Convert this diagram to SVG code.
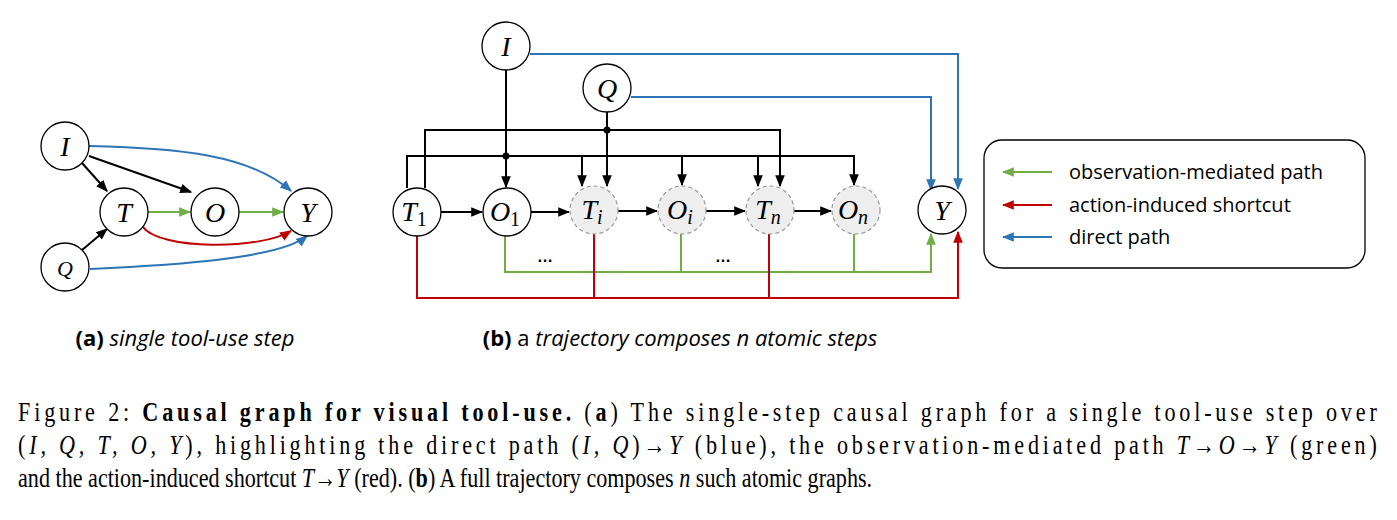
<svg xmlns="http://www.w3.org/2000/svg" width="1397" height="520" viewBox="0 0 1397 520">
<defs>
<marker id="ak" viewBox="0 0 10 10" refX="9" refY="5" markerWidth="6" markerHeight="6" orient="auto"><path d="M0,1 L10,5 L0,9 z" fill="#000"/></marker>
<marker id="ab" viewBox="0 0 10 10" refX="9" refY="5" markerWidth="6" markerHeight="6" orient="auto"><path d="M0,1 L10,5 L0,9 z" fill="#2e75b6"/></marker>
<marker id="ag" viewBox="0 0 10 10" refX="9" refY="5" markerWidth="6" markerHeight="6" orient="auto"><path d="M0,1 L10,5 L0,9 z" fill="#70ad47"/></marker>
<marker id="ar" viewBox="0 0 10 10" refX="9" refY="5" markerWidth="6" markerHeight="6" orient="auto"><path d="M0,1 L10,5 L0,9 z" fill="#c00000"/></marker>
<style>
.n{fill:#fff;stroke:#000;stroke-width:1.3}
.d{fill:#eeeeee;stroke:#999;stroke-width:1.2;stroke-dasharray:4 3}
.v{font-family:"Liberation Serif",serif;font-style:italic;font-size:28px;text-anchor:middle}
.s{font-size:20px}
.k{fill:none;stroke:#000;stroke-width:2}
.b{fill:none;stroke:#2e75b6;stroke-width:2}
.g{fill:none;stroke:#70ad47;stroke-width:2}
.r{fill:none;stroke:#c00000;stroke-width:2}
.lab{font-family:"Open Sans","DejaVu Sans",sans-serif;font-size:20px}
.sub{font-family:"Open Sans","DejaVu Sans",sans-serif;font-size:22px}
.cap{font-family:"Liberation Serif",serif;font-size:27px}
</style>
</defs>
<g id="connectors">
<line class="k" x1="82" y1="163" x2="107" y2="191" marker-end="url(#ak)"/>
<line class="k" x1="89" y1="156" x2="191" y2="192" marker-end="url(#ak)"/>
<line class="k" x1="82" y1="250" x2="107" y2="229" marker-end="url(#ak)"/>
<line class="g" x1="148" y1="212" x2="190" y2="212" marker-end="url(#ag)"/>
<line class="g" x1="239" y1="212" x2="283" y2="212" marker-end="url(#ag)"/>
<path class="b" d="M89,146 C180,148 250,155 291,191" marker-end="url(#ab)"/>
<path class="b" d="M90,269 C180,265 280,258 307,236" marker-end="url(#ab)"/>
<path class="r" d="M143,227 C160,250 260,250 291,231" marker-end="url(#ar)"/>
<line class="k" x1="506" y1="70" x2="506" y2="187" marker-end="url(#ak)"/>
<line class="k" x1="607" y1="112" x2="607" y2="186" marker-end="url(#ak)"/>
<polyline class="k" points="425,188 425,130 780,130 780,186" marker-end="url(#ak)"/>
<polyline class="k" points="407,188 407,156 854,156 854,185" marker-end="url(#ak)"/>
<line class="k" x1="582" y1="156" x2="582" y2="186" marker-end="url(#ak)"/>
<line class="k" x1="682" y1="156" x2="682" y2="185" marker-end="url(#ak)"/>
<line class="k" x1="758" y1="156" x2="758" y2="186" marker-end="url(#ak)"/>
<circle cx="607" cy="130" r="3.5"/>
<circle cx="506" cy="156" r="3.5"/>
<line class="k" x1="441" y1="212" x2="482" y2="212" marker-end="url(#ak)"/>
<line class="k" x1="531" y1="212" x2="569" y2="212" marker-end="url(#ak)"/>
<line class="k" x1="618" y1="211" x2="657" y2="211" marker-end="url(#ak)"/>
<line class="k" x1="706" y1="211" x2="745" y2="211" marker-end="url(#ak)"/>
<line class="k" x1="794" y1="211" x2="831" y2="211" marker-end="url(#ak)"/>
<polyline class="b" points="530,54 958,54 958,189" marker-end="url(#ab)"/>
<polyline class="b" points="631,97 931,97 931,190" marker-end="url(#ab)"/>
<polyline class="g" points="505,236 505,272 931,272 931,234" marker-end="url(#ag)"/>
<line class="g" x1="681" y1="234" x2="681" y2="272"/>
<line class="g" x1="854" y1="234" x2="854" y2="272"/>
<polyline class="r" points="417,236 417,298 958,298 958,232" marker-end="url(#ar)"/>
<line class="r" x1="594" y1="234" x2="594" y2="298"/>
<line class="r" x1="769" y1="234" x2="769" y2="298"/>
</g>
<g id="a-I"><circle class="n" cx="65" cy="146" r="24"/><text class="v" x="65" y="156">I</text></g>
<g id="a-T"><circle class="n" cx="124" cy="212" r="24"/><text class="v" x="124" y="222">T</text></g>
<g id="a-O"><circle class="n" cx="215" cy="212" r="24"/><text class="v" x="215" y="222">O</text></g>
<g id="a-Y"><circle class="n" cx="308" cy="212" r="24"/><text class="v" x="308" y="222">Y</text></g>
<g id="a-Q"><circle class="n" cx="65" cy="267" r="24"/><text class="v" x="65" y="276" style="font-size:22px">Q</text></g>
<g id="b-I"><circle class="n" cx="506" cy="46" r="24"/><text class="v" x="506" y="56">I</text></g>
<g id="b-Q"><circle class="n" cx="607" cy="88" r="24"/><text class="v" x="607" y="98">Q</text></g>
<g id="b-T1"><circle class="n" cx="417" cy="212" r="24"/><text class="v" x="414" y="221">T<tspan class="s" font-style="normal" dy="5">1</tspan></text></g>
<g id="b-O1"><circle class="n" cx="507" cy="212" r="24"/><text class="v" x="505" y="221">O<tspan class="s" font-style="normal" dy="5">1</tspan></text></g>
<g id="b-Ti"><circle class="d" cx="594" cy="210" r="24"/><text class="v" x="592" y="219">T<tspan class="s" dy="5">i</tspan></text></g>
<g id="b-Oi"><circle class="d" cx="682" cy="210" r="24"/><text class="v" x="680" y="219">O<tspan class="s" dy="5">i</tspan></text></g>
<g id="b-Tn"><circle class="d" cx="770" cy="210" r="24"/><text class="v" x="768" y="219">T<tspan class="s" dy="5">n</tspan></text></g>
<g id="b-On"><circle class="d" cx="856" cy="210" r="24"/><text class="v" x="853" y="219">O<tspan class="s" dy="5">n</tspan></text></g>
<g id="b-Y"><circle class="n" cx="942" cy="210" r="24"/><text class="v" x="942" y="220">Y</text></g>
<text x="545" y="262" font-family="Liberation Sans,sans-serif" font-size="16" font-weight="bold" text-anchor="middle">…</text>
<text x="723" y="262" font-family="Liberation Sans,sans-serif" font-size="16" font-weight="bold" text-anchor="middle">…</text>
<g id="legend">
<rect x="984" y="140" width="381" height="128" rx="18" fill="#fff" stroke="#000" stroke-width="1.3"/>
<line class="g" x1="1052" y1="172" x2="1003" y2="172" marker-end="url(#ag)"/>
<line class="r" x1="1052" y1="205" x2="1003" y2="205" marker-end="url(#ar)"/>
<line class="b" x1="1052" y1="237" x2="1003" y2="237" marker-end="url(#ab)"/>
<text class="lab" x="1069" y="179">observation-mediated path</text>
<text class="lab" x="1069" y="212">action-induced shortcut</text>
<text class="lab" x="1069" y="244">direct path</text>
</g>
<text class="sub" x="185" y="346" text-anchor="middle"><tspan font-weight="bold">(a)</tspan> <tspan font-style="italic">single tool-use step</tspan></text>
<text class="sub" x="680" y="346" text-anchor="middle"><tspan font-weight="bold">(b)</tspan> a <tspan font-style="italic">trajectory composes n atomic steps</tspan></text>
<g transform="scale(0.82,1)">
<text class="cap" x="22" y="421" textLength="1657" lengthAdjust="spacing">Figure 2: <tspan font-weight="bold">Causal graph for visual tool-use.</tspan> (<tspan font-weight="bold">a</tspan>) The single-step causal graph for a single tool-use step over</text>
<text class="cap" x="22" y="454" textLength="1657" lengthAdjust="spacing">(<tspan font-style="italic">I, Q, T, O, Y</tspan>), highlighting the direct path (<tspan font-style="italic">I, Q</tspan>)→<tspan font-style="italic">Y</tspan> (blue), the observation-mediated path <tspan font-style="italic">T</tspan>→<tspan font-style="italic">O</tspan>→<tspan font-style="italic">Y</tspan> (green)</text>
<text class="cap" x="22" y="487">and the action-induced shortcut <tspan font-style="italic">T</tspan>→<tspan font-style="italic">Y</tspan> (red). (<tspan font-weight="bold">b</tspan>) A full trajectory composes <tspan font-style="italic">n</tspan> such atomic graphs.</text>
</g>
</svg>
